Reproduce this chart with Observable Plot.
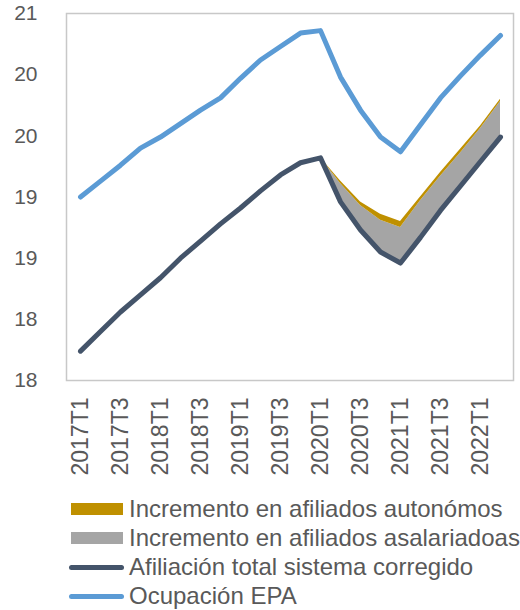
<!DOCTYPE html>
<html><head><meta charset="utf-8">
<script src="https://cdn.jsdelivr.net/npm/d3@7"></script>
<script src="https://cdn.jsdelivr.net/npm/@observablehq/plot@0.6"></script>
<style>
body{margin:0;background:#fff;font-family:"Liberation Sans",Arial,sans-serif;}
#wrap{position:relative;width:520px;height:610px;overflow:hidden;}
.row{position:absolute;left:69px;height:29px;display:flex;align-items:center;font-size:24px;color:#595959;white-space:nowrap;}
.sw{width:52px;height:12px;margin-left:2px;margin-right:6px;}
.ln{width:55px;height:5px;border-radius:3px;margin-right:5px;}
</style></head><body><div id="wrap"></div>
<script>
const quarters = ["2017T1","2017T2","2017T3","2017T4","2018T1","2018T2","2018T3","2018T4","2019T1","2019T2","2019T3","2019T4","2020T1","2020T2","2020T3","2020T4","2021T1","2021T2","2021T3","2021T4","2022T1","2022T2"];
const ocupacionEPA = [19.50,19.63,19.76,19.90,19.99,20.10,20.21,20.31,20.47,20.62,20.73,20.84,20.86,20.48,20.21,19.99,19.87,20.09,20.31,20.49,20.66,20.82];
const afiliacionTotal = [18.24,18.40,18.56,18.70,18.84,19.00,19.14,19.28,19.41,19.55,19.68,19.78,19.82,19.46,19.23,19.05,18.96,19.17,19.39,19.59,19.79,19.99];
const incAsalariados = [null,null,null,null,null,null,null,null,null,null,null,null,0,0.15,0.20,0.26,0.29,0.30,0.28,0.27,0.27,0.29];
const incAutonomos = [null,null,null,null,null,null,null,null,null,null,null,null,0,0.02,0.03,0.05,0.05,0.03,0.03,0.03,0.02,0.02];
const xTicks = ["2017T1","2017T3","2018T1","2018T3","2019T1","2019T3","2020T1","2020T3","2021T1","2021T3","2022T1"];
const yTicks = [18,18.5,19,19.5,20,20.5,21];
const yTickLabels = ["18","18","19","19","20","20","21"];
const legendLabels = ["Incremento en afiliados autonómos","Incremento en afiliados asalariadoas","Afiliación total sistema corregido","Ocupación EPA"];
const colors = {auto:"#bf9000", asal:"#a5a5a5", afil:"#44546a", epa:"#5b9bd5"};

const data = quarters.map((q,i)=>({q, epa:ocupacionEPA[i], afil:afiliacionTotal[i], asal:incAsalariados[i], auto:incAutonomos[i]}));
const areaData = data.filter(d=>d.asal!=null);
const yLab = new Map(yTicks.map((t,i)=>[t,yTickLabels[i]]));

const chart = Plot.plot({
  width:520, height:480, marginTop:13, marginBottom:100, marginLeft:66, marginRight:7,
  style:{fontFamily:"Liberation Sans, Arial, sans-serif", fontSize:"21px", color:"#595959", background:"#fff"},
  x:{type:"point", domain:quarters, padding:0.5},
  y:{domain:[18,21]},
  marks:[
    Plot.areaY(areaData,{x:"q", y1:"afil", y2:d=>d.afil+d.asal, fill:colors.asal}),
    Plot.areaY(areaData,{x:"q", y1:d=>d.afil+d.asal, y2:d=>d.afil+d.asal+d.auto, fill:colors.auto}),
    Plot.lineY(data,{x:"q", y:"afil", stroke:colors.afil, strokeWidth:5}),
    Plot.lineY(data,{x:"q", y:"epa", stroke:colors.epa, strokeWidth:5}),
    Plot.frame({stroke:"#c8c8c8", strokeWidth:1.5}),
    Plot.axisY(yTicks,{tickSize:0, tickPadding:29, tickFormat:d=>yLab.get(d), label:null, fontSize:21}),
    Plot.axisX(xTicks,{tickSize:0, tickRotate:-90, tickPadding:17, label:null, fontSize:23})
  ]
});
const wrap = document.getElementById("wrap");
wrap.appendChild(chart);

const kinds = [["sw",colors.auto],["sw",colors.asal],["ln",colors.afil],["ln",colors.epa]];
const centers = [509,538,567,596];
legendLabels.forEach((lab,i)=>{
  const row = document.createElement("div");
  row.className = "row";
  row.style.top = (centers[i]-14.5)+"px";
  const s = document.createElement("span");
  s.className = kinds[i][0];
  s.style.background = kinds[i][1];
  const t = document.createElement("span");
  t.textContent = lab;
  row.appendChild(s); row.appendChild(t);
  wrap.appendChild(row);
});
</script></body></html>
